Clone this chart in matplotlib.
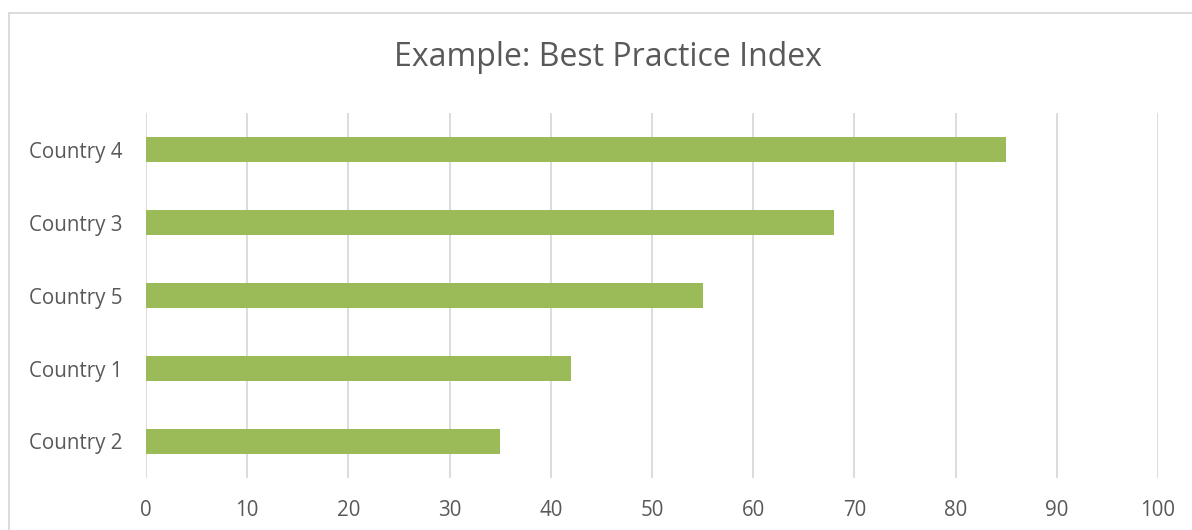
import matplotlib
matplotlib.use('Agg')
import matplotlib.pyplot as plt
from matplotlib.patches import Rectangle

# data (bottom to top as drawn)
countries = ['Country 2', 'Country 1', 'Country 5', 'Country 3', 'Country 4']
scores = [35, 42, 55, 68, 85]
x_ticks = [0, 10, 20, 30, 40, 50, 60, 70, 80, 90, 100]
title = 'Example: Best Practice Index'

bar_col = '#9BBB59'
txt_col = '#595959'
grid_col = '#D9D9D9'

plt.rcParams['font.family'] = ['Open Sans', 'DejaVu Sans']

W, H = 1192, 530
fig = plt.figure(figsize=(W / 100, H / 100), dpi=100)

# chart border (goes off the right and bottom edge)
fig.patches.append(Rectangle((9 / W, -0.1), 1.2, 1 - 13 / H + 0.1,
                             transform=fig.transFigure, fill=False,
                             edgecolor=grid_col, linewidth=1.3))

ax = fig.add_axes([146 / W, 1 - 478 / H, (1158 - 146) / W, (478 - 113) / H])
ax.barh(range(len(countries)), scores, height=0.356, color=bar_col, zorder=3)

ax.set_xlim(0, 100)
ax.set_ylim(-0.5, len(countries) - 0.5)
ax.set_xticks(x_ticks)
ax.set_yticks(range(len(countries)))
ax.set_yticklabels(countries)
ax.grid(axis='x', color=grid_col, linewidth=1.3, zorder=0)
ax.set_axisbelow(True)
for s in ax.spines.values():
    s.set_visible(False)
ax.tick_params(axis='both', length=0, labelsize=14.8, labelcolor=txt_col)
ax.tick_params(axis='x', pad=16)
ax.tick_params(axis='y', pad=17)

fig.text(608 / W, 1 - 58 / H, title, ha='center', va='center',
         fontsize=23, color=txt_col)

fig.savefig('out.png', dpi=100)
